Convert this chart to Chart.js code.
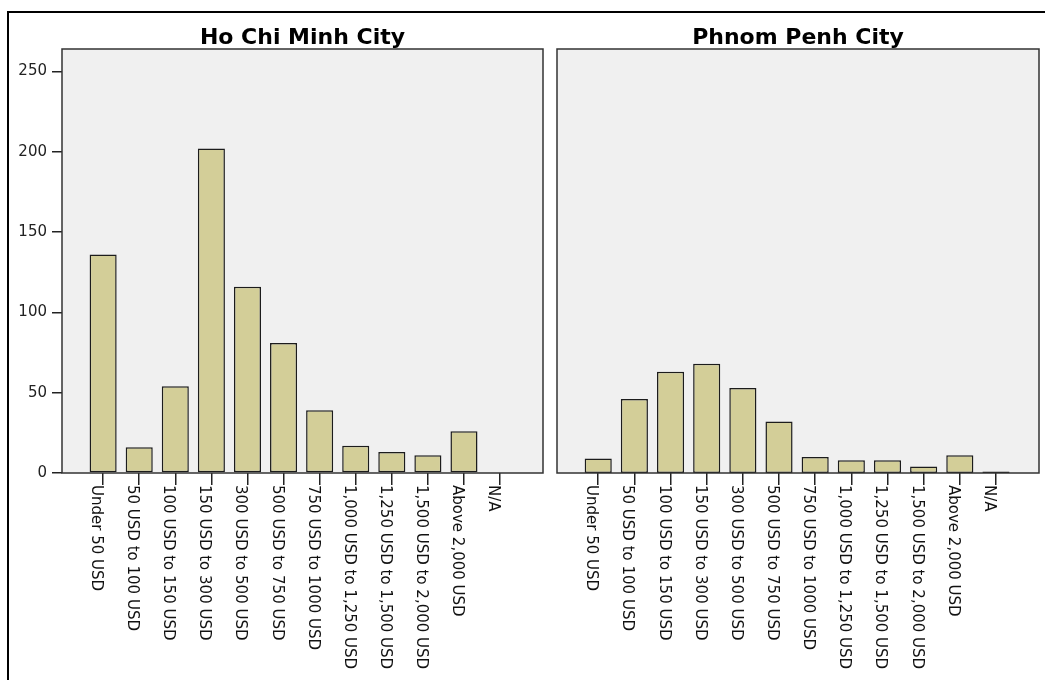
<!DOCTYPE html>
<html>
<head>
<meta charset="utf-8">
<title>Monthly income - Ho Chi Minh City / Phnom Penh City</title>
<script src="https://cdn.jsdelivr.net/npm/chart.js"></script>
<style>
  body { margin: 0; background: #fff; overflow: hidden; }
  #frame { position: absolute; left: 7px; top: 11px; width: 1040px; height: 680px; border-top: 2px solid #000; border-left: 2px solid #000; }
  #hcmChart { position: absolute; left: 0; top: 0; }
  #ppChart { position: absolute; left: 549px; top: 0; }
</style>
</head>
<body>
<div id="frame"></div>
<canvas id="hcmChart" width="549" height="680"></canvas>
<canvas id="ppChart" width="496" height="680"></canvas>
<script>
// income brackets (x axis)
const categories = [
    'Under 50 USD', '50 USD to 100 USD', '100 USD to 150 USD', '150 USD to 300 USD',
    '300 USD to 500 USD', '500 USD to 750 USD', '750 USD to 1000 USD', '1,000 USD to 1,250 USD',
    '1,250 USD to 1,500 USD', '1,500 USD to 2,000 USD', 'Above 2,000 USD', 'N/A'
];
// counts per bracket
const hcmCounts = [136, 16, 54, 202, 116, 81, 39, 17, 13, 11, 26, 0];
const ppCounts = [9, 46, 63, 68, 53, 32, 10, 8, 8, 4, 11, 1];
const yTicks = [0, 50, 100, 150, 200, 250];

const FONT = 'DejaVu Sans';

// grey plot background, dark frame and the vertical bracket labels
const plotFrame = {
    id: 'plotFrame',
    beforeDraw(chart) {
        const a = chart.chartArea;
        const c = chart.ctx;
        c.save();
        c.fillStyle = '#f0f0f0';
        c.fillRect(a.left, a.top, a.right - a.left, a.bottom - a.top);
        c.restore();
    },
    afterDatasetsDraw(chart) {
        const a = chart.chartArea;
        const c = chart.ctx;
        c.save();
        c.strokeStyle = '#333';
        c.lineWidth = 1.5;
        c.strokeRect(a.left, a.top, a.right - a.left, a.bottom - a.top);
        c.restore();
    },
    afterDraw(chart) {
        const c = chart.ctx;
        const xs = chart.scales.x;
        const bottom = chart.chartArea.bottom;
        c.save();
        c.font = '15px "' + FONT + '"';
        c.fillStyle = '#111';
        c.textAlign = 'left';
        c.textBaseline = 'alphabetic';
        categories.forEach((label, i) => {
            c.save();
            c.translate(xs.getPixelForValue(i), bottom + 12);
            c.rotate(Math.PI / 2);
            c.fillText(label, 0, 11);
            c.restore();
        });
        c.restore();
    }
};

function cityChart(canvasId, title, counts, showY) {
    const ctx = document.getElementById(canvasId).getContext('2d');
    return new Chart(ctx, {
        type: 'bar',
        data: {
            datasets: [{
                data: counts.map((v, i) => ({ x: i, y: v })),
                backgroundColor: '#d3ce98',
                borderColor: '#1c1c1c',
                borderWidth: 1.5,
                borderSkipped: false,
                barPercentage: 0.75,
                categoryPercentage: 1
            }]
        },
        options: {
            responsive: false,
            animation: false,
            layout: {
                padding: { left: showY ? 0 : 8, right: 6, top: 27, bottom: 0 }
            },
            plugins: {
                legend: { display: false },
                tooltip: { enabled: false },
                title: {
                    display: true,
                    text: title,
                    fullSize: false,
                    color: '#000',
                    font: { family: FONT, size: 22, weight: 'bold', lineHeight: 1 },
                    padding: { top: 0, bottom: 0 }
                }
            },
            scales: {
                x: {
                    type: 'linear',
                    offset: false,
                    min: -1.14,
                    max: 12.19,
                    afterBuildTicks: (scale) => {
                        scale.ticks = categories.map((c, i) => ({ value: i }));
                    },
                    afterFit: (scale) => { scale.height = 207; },
                    ticks: { display: false },
                    border: { display: false },
                    grid: { offset: false, drawOnChartArea: false, drawTicks: true, tickLength: 12, color: '#222', lineWidth: 1.5 }
                },
                y: {
                    display: showY,
                    min: 0,
                    max: 264,
                    afterBuildTicks: (scale) => {
                        scale.ticks = yTicks.map(v => ({ value: v }));
                    },
                    afterFit: (scale) => { scale.width = showY ? 62 : 0; },
                    ticks: { color: '#222', padding: 5, font: { family: FONT, size: 15 } },
                    border: { display: false },
                    grid: { drawOnChartArea: false, drawTicks: true, tickLength: 10, color: '#222', lineWidth: 1.5 }
                }
            }
        },
        plugins: [plotFrame]
    });
}

cityChart('hcmChart', 'Ho Chi Minh City', hcmCounts, true);
cityChart('ppChart', 'Phnom Penh City', ppCounts, false);
</script>
</body>
</html>
